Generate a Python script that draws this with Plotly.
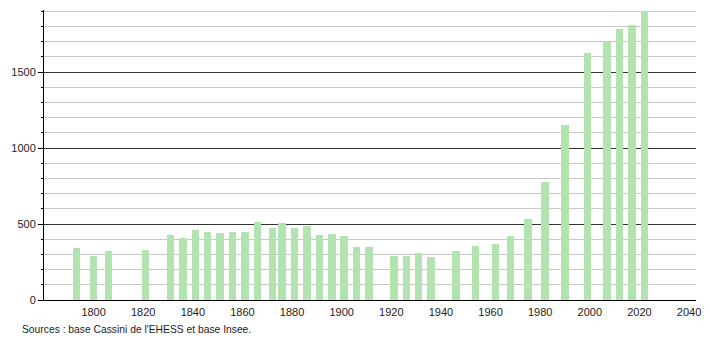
import plotly.graph_objects as go

years = [1793, 1800, 1806, 1821, 1831, 1836, 1841, 1846, 1851, 1856, 1861, 1866,
         1872, 1876, 1881, 1886, 1891, 1896, 1901, 1906, 1911, 1921, 1926, 1931,
         1936, 1946, 1954, 1962, 1968, 1975, 1982, 1990, 1999, 2007, 2012, 2017, 2022]
population = [340, 292, 322, 329, 428, 406, 458, 447, 438, 450, 450, 511,
              471, 504, 471, 485, 425, 434, 423, 347, 347, 292, 292, 307,
              281, 320, 353, 368, 421, 533, 776, 1151, 1625, 1702, 1785, 1809, 1903]

x_ticks = [1800, 1820, 1840, 1860, 1880, 1900, 1920, 1940, 1960, 1980, 2000, 2020, 2040]
x_tick_labels = [str(v) for v in x_ticks]
y_ticks = [0, 500, 1000, 1500]
y_tick_labels = ["0", "500", "1000", "1500"]

source_text = "Sources : base Cassini de l'EHESS et base Insee."

fig = go.Figure()
fig.add_trace(go.Bar(
    x=years, y=population, width=3,
    marker=dict(color="#b2e4b2", line=dict(width=0)),
    hoverinfo="x+y",
))

font = dict(family="Liberation Sans, Arial, sans-serif", size=11, color="#222222")

fig.update_layout(
    width=710, height=340,
    margin=dict(l=44, r=9, t=10, b=40),
    paper_bgcolor="white", plot_bgcolor="white",
    showlegend=False,
    font=font,
    bargap=0,
    xaxis=dict(
        range=[1780, 2042.8],
        tickvals=x_ticks, ticktext=x_tick_labels,
        showgrid=False, zeroline=False,
        showline=True, linecolor="#000000", linewidth=1,
        ticks="", ticklabelstandoff=2,
        fixedrange=True,
    ),
    yaxis=dict(
        range=[0, 1908],
        tickvals=y_ticks, ticktext=y_tick_labels,
        showgrid=True, gridcolor="#333333", gridwidth=1,
        zeroline=False,
        showline=True, linecolor="#000000", linewidth=1,
        ticks="outside", ticklen=5, tickcolor="#000000", tickwidth=1,
        minor=dict(dtick=100, tick0=0, showgrid=True, gridcolor="#c8c8c8",
                   gridwidth=1, ticks="outside", ticklen=2, tickcolor="#000000"),
        fixedrange=True,
    ),
    annotations=[dict(
        text=source_text, xref="paper", yref="paper",
        x=-0.0365, y=-0.1, xanchor="left", yanchor="middle",
        showarrow=False, font=dict(family="Liberation Sans, Arial, sans-serif", size=10.3, color="#222222"),
    )],
)

fig.write_html("out.html")
